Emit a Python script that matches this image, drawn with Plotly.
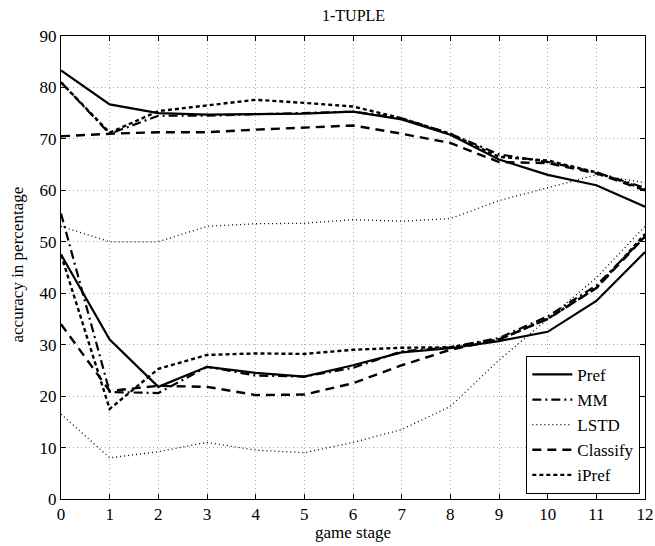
import plotly.graph_objects as go

stages = list(range(13))

pref_hi = [83.3, 76.7, 75.0, 74.7, 74.8, 74.9, 75.3, 73.8, 70.8, 66.0, 63.0, 61.0, 56.8]
pref_lo = [47.5, 31.0, 21.8, 25.7, 24.5, 23.8, 26.0, 28.5, 29.3, 30.7, 32.5, 38.5, 48.0]
mm_hi = [81.0, 71.0, 74.5, 74.5, 74.8, 75.0, 75.3, 74.0, 71.0, 67.0, 65.5, 63.5, 60.5]
mm_lo = [55.5, 20.8, 20.6, 25.7, 24.0, 23.8, 25.5, 28.7, 29.5, 31.3, 35.5, 41.5, 51.0]
lstd_hi = [53.0, 50.0, 50.0, 53.0, 53.5, 53.6, 54.3, 54.0, 54.5, 58.0, 60.5, 63.0, 61.5]
lstd_lo = [16.5, 8.0, 9.2, 11.0, 9.5, 9.0, 11.0, 13.5, 18.0, 27.0, 35.0, 43.0, 53.0]
cls_hi = [70.5, 71.0, 71.3, 71.3, 71.8, 72.2, 72.6, 71.0, 69.2, 65.5, 65.3, 63.3, 60.0]
cls_lo = [34.0, 21.0, 22.0, 21.8, 20.2, 20.3, 22.5, 26.0, 29.0, 31.0, 35.0, 41.0, 51.0]
ipref_hi = [81.0, 71.2, 75.4, 76.5, 77.6, 77.0, 76.3, 74.0, 71.0, 66.5, 65.8, 63.5, 60.2]
ipref_lo = [47.5, 17.5, 25.3, 28.0, 28.3, 28.2, 29.0, 29.4, 29.5, 31.0, 35.0, 41.0, 51.5]

series = [
    ("Pref", pref_hi, pref_lo, dict(color="black", width=2.2, dash="solid")),
    ("MM", mm_hi, mm_lo, dict(color="black", width=2.2, dash="9px,4px,2px,4px")),
    ("LSTD", lstd_hi, lstd_lo, dict(color="black", width=1.3, dash="1px,3px")),
    ("Classify", cls_hi, cls_lo, dict(color="black", width=2.4, dash="9px,6px")),
    ("iPref", ipref_hi, ipref_lo, dict(color="black", width=2.4, dash="4px,3px")),
]

fig = go.Figure()
for name, hi, lo, line in series:
    fig.add_trace(go.Scatter(x=stages, y=hi, mode="lines", name=name, line=line,
                             legendgroup=name, showlegend=True))
    fig.add_trace(go.Scatter(x=stages, y=lo, mode="lines", name=name, line=line,
                             legendgroup=name, showlegend=False))

FF = "Liberation Serif"
axis_common = dict(
    showline=True, linecolor="black", linewidth=1, mirror="ticks",
    ticks="inside", ticklen=5, tickcolor="black",
    showgrid=True, gridcolor="#aaaaaa", griddash="1px,3px", gridwidth=1,
    zeroline=False, automargin=False,
    tickfont=dict(size=17, color="black", family=FF),
)

fig.update_layout(
    width=655, height=546,
    paper_bgcolor="white", plot_bgcolor="white",
    margin=dict(l=61, r=10, t=36, b=47, autoexpand=False),
    font=dict(family=FF, color="black"),
    xaxis=dict(range=[0, 12], dtick=1, tick0=0, **axis_common),
    yaxis=dict(range=[0, 90], dtick=10, tick0=0, **axis_common),
    legend=dict(x=0.992, y=0.011, xanchor="right", yanchor="bottom",
                bgcolor="white", bordercolor="black", borderwidth=1,
                font=dict(size=17, family=FF, color="black"),
                tracegroupgap=0, itemwidth=40),
    annotations=[
        dict(text="1-TUPLE", xref="paper", yref="paper", x=0.5, y=1, yshift=21,
             xanchor="center", yanchor="middle", showarrow=False,
             font=dict(size=16, family=FF, color="black")),
        dict(text="game stage", xref="paper", yref="paper", x=0.5, y=0, yshift=-33,
             xanchor="center", yanchor="middle", showarrow=False,
             font=dict(size=17, family=FF, color="black")),
        dict(text="accuracy in percentage", xref="paper", yref="paper", x=0, y=0.5, xshift=-44,
             yshift=3, xanchor="center", yanchor="middle", showarrow=False, textangle=-90,
             font=dict(size=17, family=FF, color="black")),
    ],
)

fig.write_html("out.html", config={"displayModeBar": False},
               post_script="document.body.style.margin='0';document.body.style.overflow='hidden';")
